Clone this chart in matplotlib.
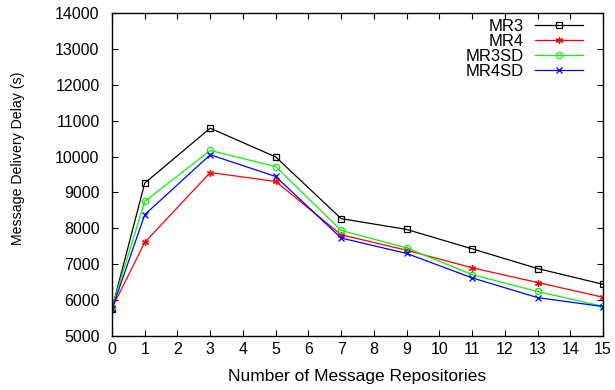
import matplotlib
matplotlib.use('Agg')
from matplotlib import pyplot as plt

plt.rcParams['font.family'] = ['Liberation Sans', 'DejaVu Sans']

repos = [0, 1, 3, 5, 7, 9, 11, 13, 15]
mr3 = [5760, 9260, 10790, 9990, 8270, 7970, 7430, 6880, 6440]
mr4 = [5780, 7610, 9555, 9305, 7820, 7390, 6900, 6490, 6080]
mr3sd = [5800, 8750, 10170, 9720, 7940, 7455, 6710, 6240, 5825]
mr4sd = [5750, 8380, 10050, 9445, 7730, 7300, 6620, 6070, 5820]

fig = plt.figure(figsize=(6.15, 3.9), dpi=100)
ax = fig.add_axes([112/615, 1 - 336/390, (603-112)/615, (336-13)/390])

ax.plot(repos, mr3, color='black', marker='s', mfc='none', ms=4.5, mew=0.9, lw=0.9, label='MR3')
ax.plot(repos, mr4, color='red', marker=(6, 2, 0), ms=5, mew=0.9, lw=0.9, label='MR4')
ax.plot(repos, mr3sd, color='#11ee11', marker='o', mfc='none', ms=4.5, mew=0.9, lw=0.9, label='MR3SD')
ax.plot(repos, mr4sd, color='blue', marker='x', ms=4.5, mew=0.9, lw=0.9, label='MR4SD')

ax.set_xlim(0, 15)
ax.set_ylim(5000, 14000)
ax.set_xticks(range(0, 16))
ax.set_yticks(range(5000, 14001, 1000))
ax.tick_params(direction='in', top=True, right=True, labelsize=11.5, length=4)
ax.tick_params(axis='y', pad=9)
ax.tick_params(axis='x', pad=4)
for s in ax.spines.values():
    s.set_linewidth(1.0)

ax.set_xlabel('Number of Message Repositories', fontsize=12.5, va='center')
ax.xaxis.set_label_coords(0.5, -(376 - 336) / 323)
ax.set_ylabel('Message Delivery Delay (s)', fontsize=10.2, va='center')
ax.yaxis.set_label_coords(-(112 - 18) / 491, (336 - 158) / 323)

ax.legend(loc='upper right', bbox_to_anchor=((583 - 112) / 491, (336 - 19) / 323),
          frameon=False, markerfirst=False, fontsize=12,
          handlelength=2.9, labelspacing=0.0, borderaxespad=0, borderpad=0,
          handletextpad=0.65)

fig.savefig('out.png', dpi=100)
